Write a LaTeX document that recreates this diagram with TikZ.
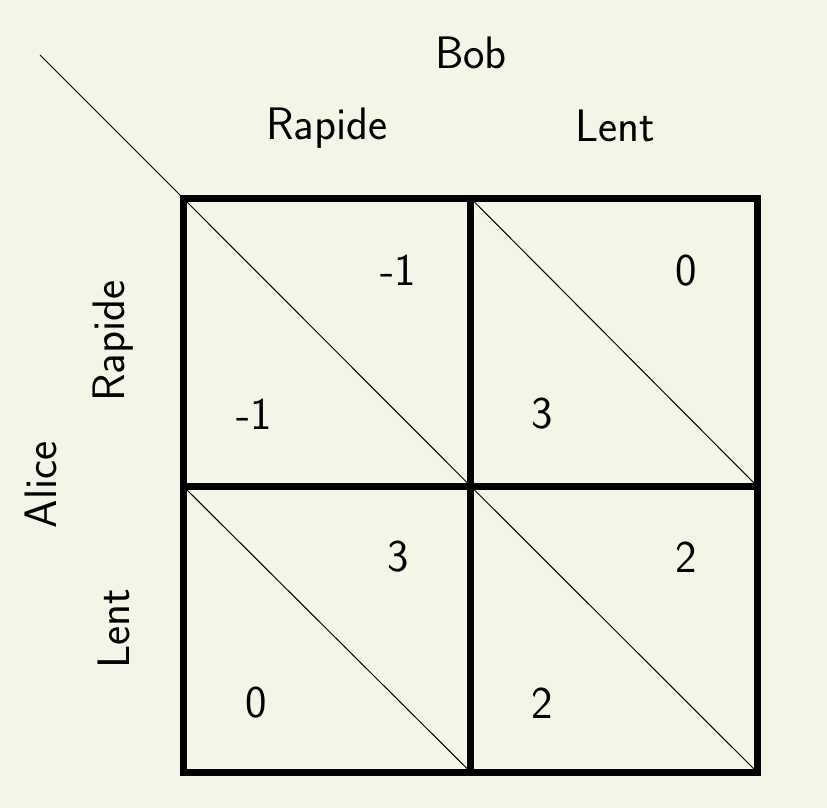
\documentclass[tikz,border=0pt]{standalone}
\usepackage{xcolor}
\definecolor{bgc}{RGB}{244,244,231}
\begin{document}
\begin{tikzpicture}[x=1pt,y=-1pt,
  lab/.style={font=\sffamily\fontsize{45.5}{54}\selectfont, inner sep=0pt},
  num/.style={font=\sffamily\fontsize{45.5}{54}\selectfont, inner sep=0pt, anchor=center},
  thinline/.style={line width=1pt},
  thickline/.style={line width=7pt}]
\fill[bgc] (0,0) rectangle (827,808);
\useasboundingbox (0,0) rectangle (827,808);
% corners
\coordinate (tl) at (183,198);
\coordinate (tm) at (470.5,198);
\coordinate (tr) at (757,198);
\coordinate (ml) at (183,486);
\coordinate (mm) at (470.5,486);
\coordinate (mr) at (757,486);
\coordinate (bl) at (183,772);
\coordinate (bm) at (470.5,772);
\coordinate (br) at (757,772);
\coordinate (start) at (40,55);
% diagonals
\draw[thinline] (start) -- (tl);
\draw[thinline] (tl) -- (mm);
\draw[thinline] (tm) -- (mr);
\draw[thinline] (ml) -- (bm);
\draw[thinline] (mm) -- (br);
% grid
\draw[thickline] (tl) rectangle (br);
\draw[thickline] (tm) -- (bm);
\draw[thickline] (ml) -- (mr);
% labels
\node[lab, anchor=base] (bob) at (471,68) {Bob};
\node[lab, anchor=base] (rt) at (327,139) {Rapide};
\node[lab, anchor=base] (lt) at (615,141) {Lent};
\node[lab, anchor=base, rotate=90] (alice) at (56,485) {Alice};
\node[lab, anchor=base, rotate=90] (rl) at (124,341) {Rapide};
\node[lab, anchor=base, rotate=90] (ll) at (129,629) {Lent};
% payoffs
\node[num] (a1) at (398,270) {-1};
\node[num] (a2) at (254,414) {-1};
\node[num] (b1) at (686,271) {0};
\node[num] (b2) at (542,414) {3};
\node[num] (c1) at (398,557) {3};
\node[num] (c2) at (256,703) {0};
\node[num] (d1) at (686,557) {2};
\node[num] (d2) at (542,703) {2};
\end{tikzpicture}
\end{document}
